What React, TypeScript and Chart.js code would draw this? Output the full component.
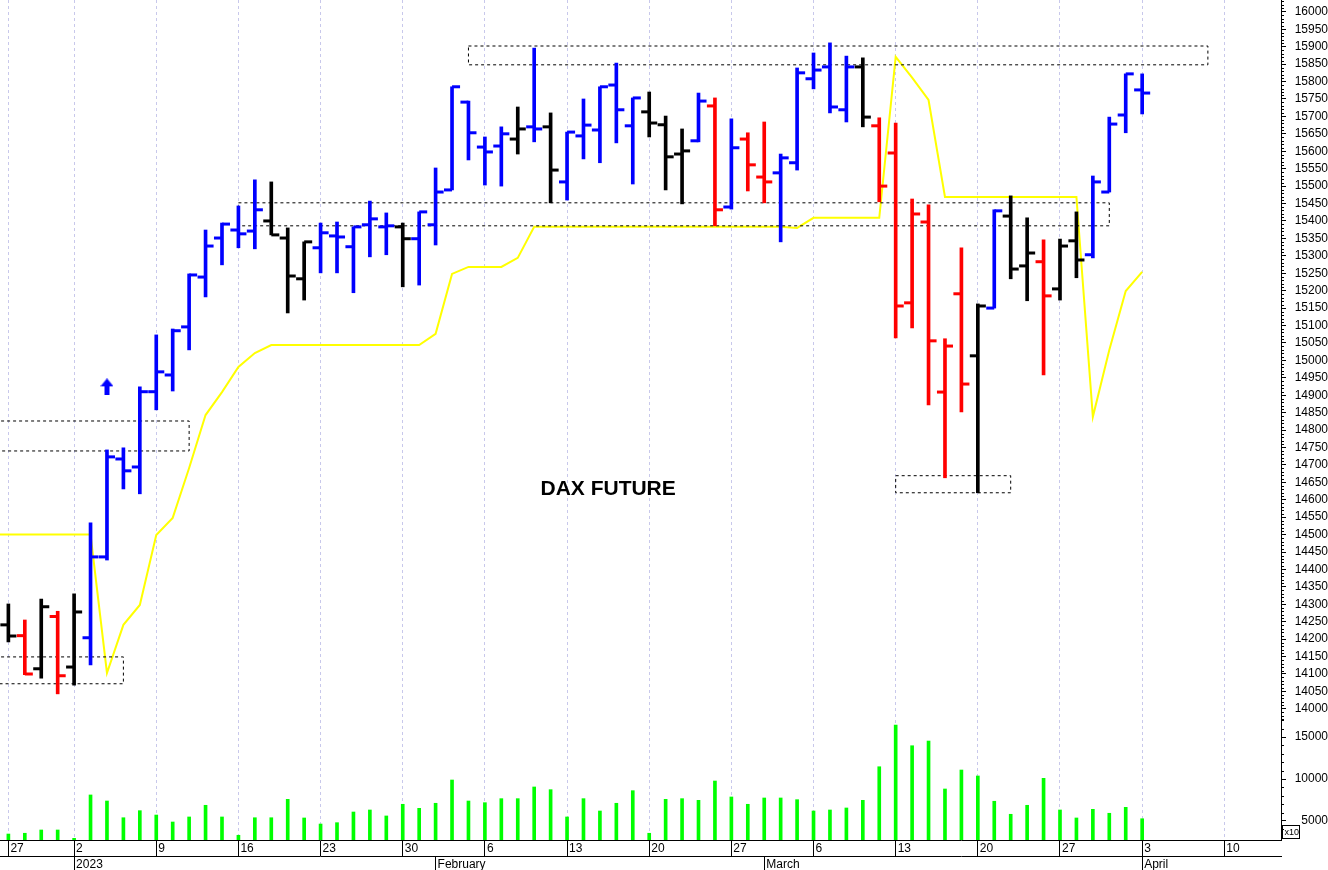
import React, { useEffect, useRef } from 'react';
import { Chart, registerables } from 'chart.js';

Chart.register(...registerables);

// ---- categories / axis labels ----
const weekStarts = [0, 4, 9, 14, 19, 24, 29, 34, 39, 44, 49, 54, 59, 64, 69, 74];
const weekLabels = ['27', '2', '9', '16', '23', '30', '6', '13', '20', '27', '6', '13', '20', '27', '3', '10'];
const monthStarts = [4, 26, 46, 69];
const monthLabels = ['2023', 'February', 'March', 'April'];
const volumeTicks = [5000, 10000, 15000];

// ---- OHLC (trading day index 0 = 27 Dec 2022) ----
const opens = [
  14241, 14210, 14115, 14265, 14120, 14204, 14436, 14717, 14694, 14910,
  14958, 15096, 15239, 15351, 15374, 15371, 15400, 15351, 15234, 15323,
  15357, 15326, 15389, 15383, 15383, 15349, 15389, 15489, 15741, 15612,
  15615, 15635, 15670, 15670, 15512, 15644, 15661, 15790, 15673, 15713,
  15676, 15592, 15630, 15730, 15440, 15635, 15526, 15538, 15567, 15808,
  15842, 15719, 15842, 15673, 15595, 15165, 15397, 14909, 15191, 15013,
  15150, 15414, 15271, 15283, 15205, 15343, 15303, 15483, 15704, 15776,
];
const highs = [
  14301, 14255, 14315, 14280, 14330, 14534, 14743, 14749, 14924, 15073,
  15090, 15248, 15374, 15394, 15443, 15518, 15512, 15380, 15340, 15394,
  15397, 15383, 15457, 15423, 15394, 15426, 15552, 15785, 15744, 15641,
  15670, 15727, 15896, 15710, 15655, 15750, 15785, 15853, 15753, 15770,
  15701, 15664, 15767, 15753, 15693, 15653, 15684, 15592, 15839, 15882,
  15911, 15873, 15868, 15696, 15681, 15463, 15446, 15062, 15323, 15162,
  15432, 15472, 15409, 15346, 15348, 15426, 15529, 15698, 15822, 15822,
];
const lows = [
  14192, 14098, 14088, 14043, 14068, 14126, 14427, 14631, 14617, 14858,
  14912, 15030, 15182, 15274, 15323, 15320, 15360, 15136, 15173, 15251,
  15251, 15194, 15297, 15303, 15211, 15216, 15331, 15489, 15575, 15503,
  15500, 15592, 15627, 15452, 15460, 15578, 15567, 15624, 15506, 15641,
  15489, 15449, 15627, 15386, 15434, 15486, 15452, 15340, 15546, 15779,
  15710, 15684, 15670, 15455, 15064, 15093, 14872, 14663, 14852, 14620,
  15150, 15234, 15171, 14958, 15173, 15237, 15294, 15483, 15653, 15707,
];
const closes = [
  14209, 14100, 14293, 14095, 14278, 14436, 14723, 14683, 14910, 14967,
  15085, 15245, 15328, 15391, 15363, 15432, 15360, 15242, 15340, 15366,
  15354, 15383, 15406, 15386, 15349, 15426, 15483, 15785, 15653, 15598,
  15650, 15664, 15664, 15546, 15655, 15675, 15785, 15719, 15753, 15681,
  15584, 15601, 15744, 15432, 15610, 15561, 15512, 15581, 15825, 15833,
  15727, 15842, 15698, 15500, 15156, 15420, 15056, 15041, 14932, 15156,
  15429, 15262, 15308, 15185, 15328, 15288, 15512, 15678, 15822, 15767,
];
// B = blue, R = red, K = black
const barColorCodes = 'KRKRKBBBBBBBBBBBKKKBBBBBKBBBBBBKBKBBBBBKKKBRBRRBBBBBKRRRRRRKBKKRKKBBBB';

const volumes = [
  3450, 3540, 3930, 3930, 2940, 8100, 7380, 5390, 6230, 5710,
  4880, 5480, 6870, 5480, 3300, 5390, 5390, 7580, 5360, 4640,
  4800, 6070, 6310, 5600, 6990, 6510, 7110, 9880, 7380, 7180,
  7660, 7660, 9050, 8730, 5480, 7660, 6190, 7110, 8610, 3540,
  7580, 7660, 7460, 9760, 7860, 6990, 7740, 7740, 7540, 6190,
  6310, 6550, 7460, 11460, 16430, 13960, 14520, 8810, 11070, 10360,
  7350, 5800, 6870, 10080, 6310, 5360, 6390, 5920, 6630, 5270,
];

// yellow trailing line, starting at index -1
const trendStart = -1;
const trendValues = [
  14500, 14500, 14500, 14500, 14500, 14500, 14500,
  14103, 14241, 14298, 14499, 14548, 14691, 14843, 14909, 14981, 15021,
  15044, 15044, 15044, 15044, 15044, 15044, 15044, 15044, 15044, 15044,
  15076, 15248, 15268, 15268, 15268, 15294,
  15383, 15383, 15383, 15383, 15383, 15383, 15383, 15383, 15383, 15383,
  15383, 15383, 15383, 15383, 15383, 15383, 15380,
  15409, 15409, 15409, 15409, 15409,
  15871, 15811, 15747,
  15469, 15469, 15469, 15469, 15469, 15469, 15469, 15469, 15469,
  14838, 15030, 15199, 15254,
];

// dashed zones
const zoneStarts = [-3, -3, 28, 14, 54];
const zoneEnds = [11, 7, 73, 67, 61];
const zoneTops = [14826, 14149, 15902, 15452, 14669];
const zoneBottoms = [14740, 14072, 15848, 15386, 14620];

const arrowX = 6;
const arrowPrice = 14924;
const titleText = 'DAX FUTURE';
const titleX = 36.5;
const titlePrice = 14630;

const PRICE_MIN = 13968;
const PRICE_MAX = 16034;
const VOL_MIN = 2738;
const VOL_MAX = 17024;
const X_MIN = -0.51;
const X_MAX = 77.45;

const COLOR_MAP: Record<string, string> = { B: '#0000FF', R: '#FF0000', K: '#000000' };
const FONT = "'Liberation Sans', Arial, sans-serif";

function makeArrow(color: string) {
  const c = document.createElement('canvas');
  c.width = 13;
  c.height = 17;
  const g = c.getContext('2d')!;
  g.fillStyle = color;
  g.beginPath();
  g.moveTo(6.5, 0);
  g.lineTo(13, 8);
  g.lineTo(9, 8);
  g.lineTo(9, 17);
  g.lineTo(4, 17);
  g.lineTo(4, 8);
  g.lineTo(0, 8);
  g.closePath();
  g.fill();
  return c;
}

const zeroPad = (s: any) => {
  s.paddingLeft = 0;
  s.paddingRight = 0;
  s.paddingTop = 0;
  s.paddingBottom = 0;
};

const decorPlugin = {
  id: 'decor',
  afterDraw(chart: any) {
    const ctx = chart.ctx as CanvasRenderingContext2D;
    const y = chart.scales.y;
    const yv = chart.scales.yv;
    const x = chart.scales.x;
    ctx.save();
    ctx.strokeStyle = '#000';
    ctx.lineWidth = 1;
    ctx.beginPath();
    for (let v = 13970; v <= 16030; v += 10) {
      if (v % 50 === 0) continue;
      const py = Math.round(y.getPixelForValue(v)) + 0.5;
      ctx.moveTo(y.left, py);
      ctx.lineTo(y.left + 3, py);
    }
    for (let v = 3000; v <= 17000; v += 1000) {
      if (v % 5000 === 0) continue;
      const py = Math.round(yv.getPixelForValue(v)) + 0.5;
      ctx.moveTo(yv.left, py);
      ctx.lineTo(yv.left + 3, py);
    }
    ctx.stroke();
    // x10 box
    const bx = Math.round(yv.left) + 1.5;
    const by = Math.round(yv.bottom) - 14.5;
    ctx.strokeRect(bx, by, 17, 13);
    ctx.fillStyle = '#000';
    ctx.font = `9px ${FONT}`;
    ctx.textBaseline = 'middle';
    ctx.textAlign = 'left';
    ctx.fillText('x10', bx + 2, by + 7);
    // title
    ctx.font = `bold 21px ${FONT}`;
    ctx.textAlign = 'center';
    ctx.fillText(titleText, x.getPixelForValue(titleX), y.getPixelForValue(titlePrice));
    ctx.restore();
  },
};

export default function App() {
  const ref = useRef<HTMLCanvasElement>(null);
  useEffect(() => {
    if (!ref.current) return;
    Chart.defaults.font.family = FONT;
    Chart.defaults.font.size = 12;
    Chart.defaults.color = '#000';

    const cols = barColorCodes.split('').map((c) => COLOR_MAP[c]);
    const idx = opens.map((_, i) => i);
    const TICK_OFF = 0.245;

    const zoneSets = zoneStarts.map((s, k) => ({
      type: 'line' as const,
      label: 'zone' + k,
      data: [
        { x: s, y: zoneTops[k] },
        { x: zoneEnds[k], y: zoneTops[k] },
        { x: zoneEnds[k], y: zoneBottoms[k] },
        { x: s, y: zoneBottoms[k] },
        { x: s, y: zoneTops[k] },
      ],
      borderColor: '#000',
      borderWidth: 1,
      borderDash: [3, 3],
      pointRadius: 0,
      fill: false,
      tension: 0,
      yAxisID: 'y',
      xAxisID: 'x',
      order: 4,
    }));

    const chart = new Chart(ref.current, {
      type: 'bar',
      data: {
        datasets: [
          {
            type: 'line',
            label: 'open',
            data: idx.map((i) => ({ x: i - TICK_OFF, y: opens[i] })),
            showLine: false,
            pointStyle: 'line',
            pointRadius: 4,
            pointBorderWidth: 3,
            pointBorderColor: cols,
            pointBackgroundColor: cols,
            yAxisID: 'y',
            xAxisID: 'x',
            order: 0,
          },
          {
            type: 'line',
            label: 'close',
            data: idx.map((i) => ({ x: i + TICK_OFF, y: closes[i] })),
            showLine: false,
            pointStyle: 'line',
            pointRadius: 4,
            pointBorderWidth: 3,
            pointBorderColor: cols,
            pointBackgroundColor: cols,
            yAxisID: 'y',
            xAxisID: 'x',
            order: 0,
          },
          {
            type: 'bar',
            label: 'range',
            data: idx.map((i) => ({ x: i, y: [lows[i], highs[i]] })) as any,
            backgroundColor: cols,
            barThickness: 3,
            grouped: false,
            yAxisID: 'y',
            xAxisID: 'x',
            order: 1,
          },
          {
            type: 'bar',
            label: 'volume',
            data: idx.map((i) => ({ x: i, y: volumes[i] })) as any,
            backgroundColor: '#00FF00',
            barThickness: 3,
            grouped: false,
            yAxisID: 'yv',
            xAxisID: 'x',
            order: 1,
          },
          {
            type: 'line',
            label: 'arrow',
            data: [{ x: arrowX, y: arrowPrice }],
            showLine: false,
            pointStyle: makeArrow('#0000FF') as any,
            pointRadius: 5,
            yAxisID: 'y',
            xAxisID: 'x',
            order: 0,
          },
          ...(zoneSets as any[]),
          {
            type: 'line',
            label: 'trend',
            data: trendValues.map((v, k) => ({ x: k + trendStart, y: v })),
            borderColor: '#FFFF00',
            borderWidth: 2,
            pointRadius: 0,
            fill: false,
            tension: 0,
            yAxisID: 'y',
            xAxisID: 'x',
            order: 5,
          },
        ] as any,
      },
      options: {
        responsive: false,
        animation: false,
        events: [],
        layout: { padding: 0, autoPadding: false },
        plugins: { legend: { display: false }, tooltip: { enabled: false } },
        scales: {
          x: {
            type: 'linear',
            position: 'bottom',
            offset: false,
            min: X_MIN,
            max: X_MAX,
            bounds: 'data',
            afterBuildTicks: (s: any) => {
              s.ticks = weekStarts.map((v) => ({ value: v }));
            },
            afterFit: (s: any) => {
              s.height = 16;
              zeroPad(s);
            },
            ticks: {
              autoSkip: false,
              maxRotation: 0,
              minRotation: 0,
              align: 'start',
              labelOffset: 2,
              padding: -15,
              color: '#000',
              font: { size: 12, family: FONT },
              callback: (v: any) => {
                const k = weekStarts.indexOf(Number(v));
                return k >= 0 ? weekLabels[k] : '';
              },
            },
            grid: {
              offset: false,
              color: '#C8C8EB',
              lineWidth: 1,
              drawOnChartArea: true,
              drawTicks: true,
              tickLength: 16,
              tickColor: '#000',
              tickWidth: 1,
            },
            border: { display: true, color: '#000', width: 1, dash: [3, 3] },
          },
          x2: {
            type: 'linear',
            position: 'bottom',
            offset: false,
            min: X_MIN,
            max: X_MAX,
            bounds: 'data',
            afterBuildTicks: (s: any) => {
              s.ticks = monthStarts.map((v) => ({ value: v }));
            },
            afterFit: (s: any) => {
              s.height = 14;
              zeroPad(s);
            },
            ticks: {
              autoSkip: false,
              maxRotation: 0,
              minRotation: 0,
              align: 'start',
              labelOffset: 2,
              padding: -12.5,
              color: '#000',
              font: { size: 12, family: FONT },
              callback: (v: any) => {
                const k = monthStarts.indexOf(Number(v));
                return k >= 0 ? monthLabels[k] : '';
              },
            },
            grid: {
              offset: false,
              drawOnChartArea: false,
              drawTicks: true,
              tickLength: 14,
              tickColor: '#000',
              tickWidth: 1,
              color: '#000',
            },
            border: { display: true, color: '#000', width: 1 },
          },
          y: {
            type: 'linear',
            position: 'right',
            stack: 'right',
            stackWeight: 720,
            min: PRICE_MIN,
            max: PRICE_MAX,
            afterFit: (s: any) => {
              s.width = 47;
              zeroPad(s);
            },
            ticks: {
              stepSize: 50,
              includeBounds: false,
              autoSkip: false,
              padding: 6,
              crossAlign: 'far',
              color: '#000',
              font: { size: 12, family: FONT },
              callback: (v: any) => String(v),
            },
            grid: {
              drawOnChartArea: false,
              drawTicks: true,
              tickLength: 5,
              tickColor: '#000',
              tickWidth: 1,
            },
            border: { display: true, color: '#000', width: 1 },
          },
          yv: {
            type: 'linear',
            position: 'right',
            stack: 'right',
            stackWeight: 120,
            min: VOL_MIN,
            max: VOL_MAX,
            bounds: 'data',
            afterBuildTicks: (s: any) => {
              s.ticks = volumeTicks.map((v) => ({ value: v }));
            },
            afterFit: (s: any) => {
              s.width = 47;
              zeroPad(s);
            },
            ticks: {
              autoSkip: false,
              padding: 6,
              crossAlign: 'far',
              color: '#000',
              font: { size: 12, family: FONT },
              callback: (v: any) => String(v),
            },
            grid: {
              drawOnChartArea: false,
              drawTicks: true,
              tickLength: 5,
              tickColor: '#000',
              tickWidth: 1,
            },
            border: { display: true, color: '#000', width: 1 },
          },
        },
      } as any,
      plugins: [decorPlugin],
    });
    return () => chart.destroy();
  }, []);

  return (
    <div style={{ position: 'fixed', left: 0, top: 0, width: 1328, height: 870, background: '#fff' }}>
      <canvas ref={ref} width={1328} height={870} style={{ display: 'block', width: 1328, height: 870 }} />
    </div>
  );
}
